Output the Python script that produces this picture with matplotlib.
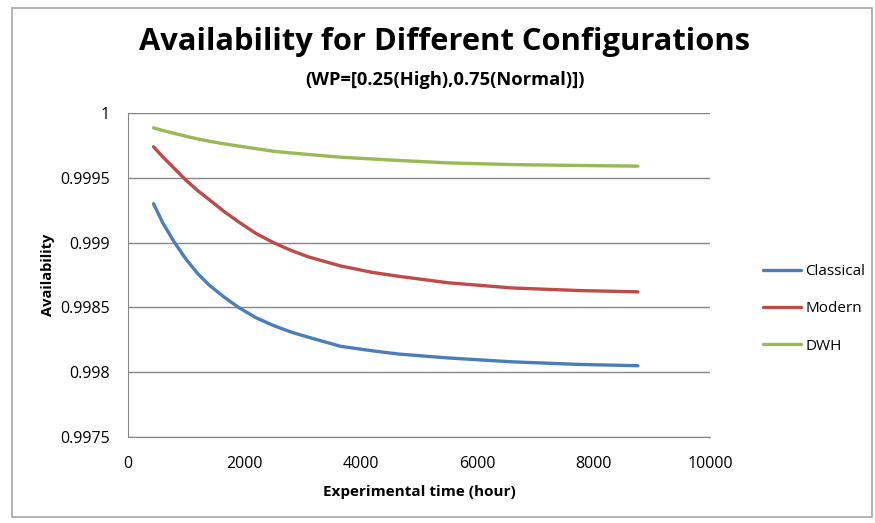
import matplotlib.pyplot as plt
from matplotlib.patches import Rectangle

hours = [438, 600, 800, 1000, 1200, 1400, 1650, 1900, 2200, 2500, 2800,
         3100, 3650, 4200, 4650, 5500, 6600, 7750, 8760]
classical = [0.99930, 0.99915, 0.99900, 0.99887, 0.99876, 0.99867, 0.99858,
             0.99850, 0.99842, 0.99836, 0.99831, 0.99827, 0.99820, 0.998165,
             0.99814, 0.99811, 0.99808, 0.99806, 0.99805]
modern = [0.99974, 0.99966, 0.99957, 0.99948, 0.99940, 0.99933, 0.99924,
          0.99916, 0.99907, 0.99900, 0.99894, 0.99889, 0.99882, 0.99877,
          0.99874, 0.99869, 0.99865, 0.99863, 0.99862]
dwh = [0.999885, 0.999865, 0.999842, 0.999820, 0.999800, 0.999782, 0.999762,
       0.999745, 0.999725, 0.999705, 0.999692, 0.999680, 0.999659, 0.999645,
       0.999634, 0.999615, 0.999602, 0.999595, 0.99959]

series_names = ["Classical", "Modern", "DWH"]
colors = ["#4A7EBB", "#BE4B48", "#98B954"]
yticks = [0.9975, 0.998, 0.9985, 0.999, 0.9995, 1]
ytick_labels = ["0.9975", "0.998", "0.9985", "0.999", "0.9995", "1"]
xticks = [0, 2000, 4000, 6000, 8000, 10000]

plt.rcParams["font.family"] = ["Open Sans", "DejaVu Sans"]

fig = plt.figure(figsize=(8.75, 5.23), dpi=100)
fig.patches.append(Rectangle((12 / 875, 1 - 517 / 523), 860 / 875, 509 / 523,
                             transform=fig.transFigure, fill=False,
                             edgecolor="#A6A6A6", linewidth=1.2))

ax = fig.add_axes([128 / 875, 1 - 437 / 523, 582 / 875, 324 / 523])
for name, vals, c in zip(series_names, [classical, modern, dwh], colors):
    ax.plot(hours, vals, color=c, linewidth=2.4, label=name,
            solid_capstyle="round", solid_joinstyle="round")

ax.set_xlim(0, 10000)
ax.set_ylim(0.9975, 1.0)
ax.set_xticks(xticks)
ax.set_xticklabels([str(x) for x in xticks])
ax.set_yticks(yticks)
ax.set_yticklabels(ytick_labels)
ax.tick_params(length=0, labelsize=11.5, colors="#000000")
ax.tick_params(axis="y", pad=13)
ax.tick_params(axis="x", pad=14)
ax.grid(axis="y", color="#868686", linewidth=1)
for s in ["top", "right"]:
    ax.spines[s].set_visible(False)
for s in ["left", "bottom"]:
    ax.spines[s].set_color("#868686")

ax.set_xlabel("Experimental time (hour)", fontsize=11, fontweight="bold",
              labelpad=9)
ax.set_ylabel("Availability", fontsize=10.5, fontweight="bold", labelpad=4)

fig.text(0.508, 1 - 42 / 523, "Availability for Different Configurations",
         ha="center", va="center", fontsize=22.2, fontweight="bold")
fig.text(0.508, 1 - 80 / 523, "(WP=[0.25(High),0.75(Normal)])",
         ha="center", va="center", fontsize=13.2, fontweight="bold")

ax.legend(loc="center left", bbox_to_anchor=(749 / 875, 1 - 309 / 523),
          bbox_transform=fig.transFigure, frameon=False, fontsize=11,
          handlelength=2.5, handletextpad=0.3, labelspacing=1.45)

fig.savefig("out.png", dpi=100)
